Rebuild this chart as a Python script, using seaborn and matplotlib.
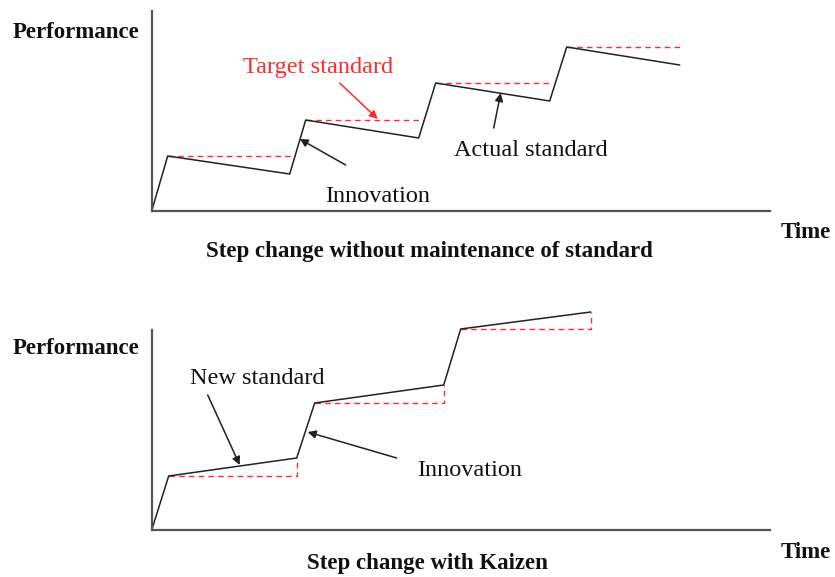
import numpy as np
import pandas as pd
import matplotlib
matplotlib.use('Agg')
import matplotlib.pyplot as plt
import seaborn as sns

sns.set_style("white")
plt.rcParams['font.family'] = ['Liberation Serif', 'DejaVu Serif']

# Step change without maintenance of standard (time, performance)
top_time = [0, 1.6, 13.8, 15.4, 26.7, 28.4, 39.8, 41.5, 52.8]
top_perf = [0, 5.5, 3.7, 9.1, 7.3, 12.8, 11.0, 16.4, 14.6]
target_level = [5.5, 9.1, 12.8, 16.4]
target_start = [1.6, 15.4, 28.4, 41.5]
target_end = [14.3, 27.2, 39.8, 52.8]

# Step change with Kaizen
kz_time = [0, 1.7, 14.5, 16.3, 29.2, 30.9, 43.9]
kz_perf = [0, 5.4, 7.2, 12.7, 14.5, 20.1, 21.8]
old_level = [5.4, 12.7, 20.1]
old_start = [1.7, 16.3, 30.9]
old_end = [14.5, 29.2, 43.9]
old_reached = [7.2, 14.5, 21.8]

x_max = 61.8
y_axis_top = 20.0

W, H = 835, 577
fig = plt.figure(figsize=(W / 100, H / 100), dpi=100)

# axes placed in pixel units, 10 px per time unit
def px_axes(left, top, bottom):
    return fig.add_axes([left / W, (H - bottom) / H, (x_max * 10) / W, (bottom - top) / H])

ax1 = px_axes(151.7, 10, 211)
ax2 = px_axes(151.7, 310, 530)
ax1.set_ylim(0, 20.1)
ax2.set_ylim(0, 22.0)

line_kw = dict(color='#222222', linewidth=1.1, clip_on=False, sort=False, estimator=None)
red = '#ff2b2b'
dash = (0, (4, 3))

for ax in (ax1, ax2):
    ax.set_xlim(0, x_max)
    for s in ('top', 'right'):
        ax.spines[s].set_visible(False)
    for s in ('left', 'bottom'):
        ax.spines[s].set_color('#555555')
        ax.spines[s].set_linewidth(1.6)
    ax.spines['left'].set_bounds(0, y_axis_top)
    ax.set_xticks([])
    ax.set_yticks([])
    ax.patch.set_alpha(0)

# top panel
ax1.hlines(target_level, target_start, target_end, colors=red, linestyles=dash, linewidth=1.0)
sns.lineplot(x=top_time, y=top_perf, ax=ax1, **line_kw)

# bottom panel
for lvl, s, e, r in zip(old_level, old_start, old_end, old_reached):
    ax2.plot([s, e, e], [lvl, lvl, r], color=red, linestyle=dash, linewidth=1.0, clip_on=False)
sns.lineplot(x=kz_time, y=kz_perf, ax=ax2, **line_kw)

bold = dict(fontsize=16.5, fontweight='bold', ha='center', va='center', clip_on=False, color='#111111')
note = dict(fontsize=17.5, ha='center', va='center', color='#111111')
arrow = dict(arrowstyle='-|>', color='#222222', lw=1.1, mutation_scale=12, shrinkA=0, shrinkB=0)
red_arrow = dict(arrowstyle='-|>', color=red, lw=1.1, mutation_scale=12, shrinkA=0, shrinkB=0)

ax1.text(-7.6, 17.9, 'Performance', **bold)
ax2.text(-7.6, 18.2, 'Performance', **bold)
ax1.text(65.4, -2.2, 'Time', **bold)
ax2.text(65.4, -2.3, 'Time', **bold)
ax1.text(27.8, -4.1, 'Step change without maintenance of standard', **bold)
ax2.text(27.6, -3.3, 'Step change with Kaizen', **bold)

ax1.text(16.6, 14.3, 'Target standard', **{**note, 'color': red})
ax1.annotate('', xy=(22.6, 9.2), xytext=(18.8, 12.8), arrowprops=red_arrow)
ax1.text(37.9, 6.1, 'Actual standard', **note)
ax1.annotate('', xy=(34.9, 11.8), xytext=(34.2, 8.3), arrowprops=arrow)
ax1.text(22.6, 1.4, 'Innovation', **note)
ax1.annotate('', xy=(14.8, 7.2), xytext=(19.4, 4.6), arrowprops=arrow)

ax2.text(10.6, 15.2, 'New standard', **note)
ax2.annotate('', xy=(8.8, 6.5), xytext=(5.6, 13.5), arrowprops=arrow)
ax2.text(31.8, 6.0, 'Innovation', **note)
ax2.annotate('', xy=(15.6, 9.8), xytext=(24.5, 7.2), arrowprops=arrow)

fig.savefig('out.png', dpi=100)
